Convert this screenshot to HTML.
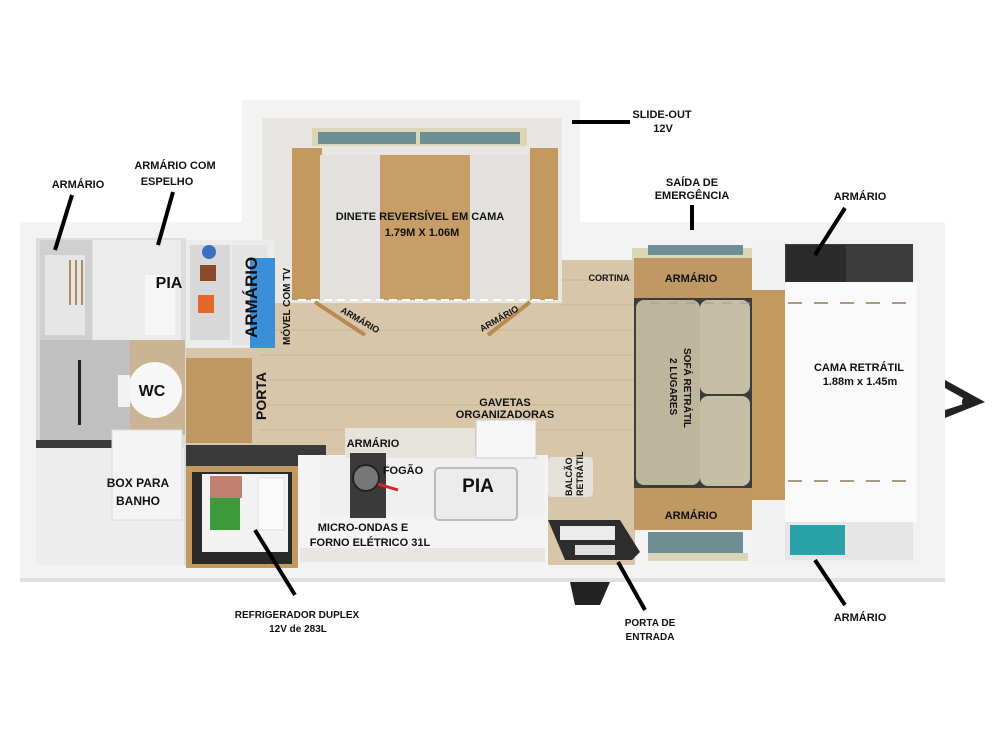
<!DOCTYPE html>
<html><head><meta charset="utf-8"><style>
html,body{margin:0;padding:0;background:#fff}
svg{display:block}
text{font-family:"Liberation Sans",sans-serif;font-weight:bold;fill:#111}
</style></head><body>
<svg width="1000" height="750" viewBox="0 0 1000 750" xmlns="http://www.w3.org/2000/svg">
<!-- outer walls -->
<rect x="242" y="100" width="338" height="145" fill="#f3f3f3"/>
<rect x="20" y="222" width="925" height="360" fill="#f3f3f3"/>
<rect x="20" y="578" width="925" height="4" fill="#e0e0e0"/>
<!-- wood floor -->
<rect x="262" y="118" width="300" height="190" fill="#ece9e4"/>
<rect x="185" y="240" width="450" height="325" fill="#d8c6aa"/>
<rect x="560" y="240" width="80" height="20" fill="#f3f3f3"/>
<g stroke="#c9b596" stroke-width="1">
<line x1="260" y1="330" x2="635" y2="330"/><line x1="260" y1="355" x2="635" y2="355"/><line x1="260" y1="380" x2="635" y2="380"/><line x1="260" y1="405" x2="635" y2="405"/><line x1="260" y1="430" x2="635" y2="430"/><line x1="560" y1="280" x2="635" y2="280"/><line x1="560" y1="305" x2="635" y2="305"/>
</g>
<!-- slide-out dinette -->
<rect x="262" y="118" width="300" height="185" fill="#e8e6e2"/>
<rect x="312" y="128" width="215" height="18" fill="#dcd6b8"/>
<rect x="318" y="132" width="98" height="12" fill="#6f8f95"/>
<rect x="420" y="132" width="100" height="12" fill="#6f8f95"/>
<rect x="292" y="148" width="30" height="152" fill="#c4995f"/>
<rect x="530" y="148" width="28" height="152" fill="#c4995f"/>
<rect x="320" y="155" width="210" height="145" fill="#e3e1dd"/>
<rect x="380" y="155" width="90" height="145" fill="#c89e68"/>
<line x1="298" y1="300" x2="556" y2="300" stroke="#fff" stroke-width="2" stroke-dasharray="8 5"/>
<line x1="315" y1="302" x2="365" y2="335" stroke="#b88a50" stroke-width="4"/>
<line x1="530" y1="302" x2="488" y2="335" stroke="#b88a50" stroke-width="4"/>
<!-- bathroom -->
<rect x="36" y="238" width="150" height="327" fill="#dcdcdc"/>
<rect x="40" y="240" width="52" height="100" fill="#d0d0d0"/>
<rect x="45" y="255" width="40" height="80" fill="#e6e6e6"/>
<g stroke="#b08a60" stroke-width="2"><line x1="70" y1="260" x2="70" y2="305"/><line x1="76" y1="260" x2="76" y2="305"/><line x1="82" y1="260" x2="82" y2="305"/></g>
<rect x="93" y="240" width="88" height="100" fill="#ececec"/>
<rect x="145" y="275" width="30" height="60" fill="#f6f6f6"/>
<rect x="130" y="340" width="55" height="95" fill="#cbb493"/>
<rect x="40" y="340" width="90" height="100" fill="#c0c0c0"/>
<rect x="78" y="360" width="3" height="65" fill="#222"/>
<ellipse cx="155" cy="390" rx="27" ry="28" fill="#f7f7f7"/>
<rect x="118" y="375" width="12" height="32" fill="#f2f2f2"/>
<rect x="36" y="440" width="145" height="8" fill="#3a3a3a"/>
<rect x="36" y="448" width="148" height="117" fill="#ededed"/>
<rect x="112" y="430" width="70" height="90" fill="#f4f4f4" stroke="#ddd"/>
<!-- armario / tv -->
<rect x="186" y="240" width="88" height="108" fill="#ececec"/>
<rect x="190" y="245" width="40" height="95" fill="#d8d8d8"/>
<circle cx="209" cy="252" r="7" fill="#3b6fc4"/><rect x="200" y="265" width="16" height="16" fill="#8a4a2a"/><rect x="198" y="295" width="16" height="18" fill="#e0682a"/>
<rect x="232" y="245" width="35" height="100" fill="#e4e4e4"/>
<rect x="250" y="258" width="25" height="90" fill="#3b8fd8"/>
<rect x="186" y="358" width="66" height="85" fill="#bf9863"/>
<!-- fridge -->
<rect x="186" y="445" width="140" height="25" fill="#3a3a3a"/>
<rect x="186" y="466" width="112" height="102" fill="#c4995f"/>
<rect x="192" y="472" width="100" height="92" fill="#2a2a2a"/>
<rect x="202" y="474" width="86" height="78" fill="#f2f2f2"/>
<rect x="210" y="476" width="32" height="22" fill="#c08070"/>
<rect x="210" y="498" width="30" height="32" fill="#3a9a3c"/>
<rect x="258" y="478" width="26" height="52" fill="#fafafa" stroke="#ddd"/>
<!-- kitchen counter -->
<rect x="298" y="455" width="250" height="112" fill="#f4f4f4"/>
<rect x="320" y="456" width="225" height="60" fill="#f0f0f0"/>
<rect x="345" y="428" width="130" height="30" fill="#e6e3dd"/>
<rect x="350" y="453" width="36" height="65" fill="#3a3a3a"/>
<circle cx="366" cy="478" r="13" fill="#777" stroke="#222" stroke-width="2"/>
<line x1="378" y1="484" x2="398" y2="490" stroke="#d22" stroke-width="3"/>
<rect x="435" y="468" width="82" height="52" rx="4" fill="#ececec" stroke="#bbb" stroke-width="2"/>
<rect x="476" y="420" width="60" height="38" fill="#f6f6f6" stroke="#ccc"/>
<rect x="548" y="457" width="45" height="40" rx="4" fill="#e5e2dc"/>
<rect x="300" y="548" width="245" height="14" fill="#e8e6e0"/>
<!-- door -->
<path d="M548 520 L620 520 L640 552 L632 560 L565 560 Z" fill="#2d2d2d"/>
<rect x="560" y="526" width="55" height="14" fill="#ececec"/>
<rect x="575" y="545" width="40" height="10" fill="#e0e0e0"/>
<path d="M570 582 L610 582 L600 605 L575 605 Z" fill="#222"/>
<!-- sofa area -->
<rect x="632" y="248" width="125" height="12" fill="#dcd6b8"/>
<rect x="648" y="245" width="95" height="10" fill="#6f8f95"/>
<rect x="634" y="258" width="118" height="40" fill="#bf9863"/>
<rect x="634" y="298" width="118" height="190" fill="#3c3c3c"/>
<rect x="636" y="300" width="64" height="185" rx="8" fill="#bdb59c"/>
<rect x="700" y="300" width="50" height="94" rx="8" fill="#c6bea5"/>
<rect x="700" y="396" width="50" height="90" rx="8" fill="#c6bea5"/>
<rect x="634" y="488" width="118" height="42" fill="#bf9863"/>
<rect x="648" y="532" width="95" height="22" fill="#6f8f95"/>
<rect x="648" y="553" width="100" height="8" fill="#dcd6b8"/>
<!-- bedroom -->
<rect x="752" y="240" width="168" height="325" fill="#f1f1f1"/>
<rect x="752" y="290" width="35" height="210" fill="#c4995f"/>
<rect x="785" y="244" width="128" height="40" fill="#3c3c3c"/>
<rect x="786" y="245" width="60" height="38" fill="#2b2b2b"/>
<rect x="785" y="520" width="128" height="40" fill="#e6e6e6"/>
<rect x="790" y="525" width="55" height="30" fill="#2aa3a8"/>
<rect x="785" y="282" width="132" height="240" fill="#fafafa"/>
<line x1="788" y1="303" x2="918" y2="303" stroke="#a99a85" stroke-width="2" stroke-dasharray="14 12"/>
<line x1="788" y1="481" x2="918" y2="481" stroke="#a99a85" stroke-width="2" stroke-dasharray="14 12"/>
<line x1="650" y1="303" x2="750" y2="303" stroke="#a99a85" stroke-width="1" stroke-dasharray="10 8"/>
<path d="M945 380 L985 402 L945 418 L945 410 L970 402 L945 388 Z" fill="#222"/>
<circle cx="968" cy="402" r="6" fill="#222"/>
<!-- leader lines -->
<g stroke="#000" stroke-width="4" stroke-linecap="butt">
<line x1="572" y1="122" x2="630" y2="122"/>
<line x1="692" y1="205" x2="692" y2="230"/>
<line x1="845" y1="208" x2="815" y2="255"/>
<line x1="815" y1="560" x2="845" y2="605"/>
<line x1="72" y1="195" x2="55" y2="250"/>
<line x1="173" y1="192" x2="158" y2="245"/>
<line x1="255" y1="530" x2="295" y2="595"/>
<line x1="618" y1="562" x2="645" y2="610"/>
</g>
<!-- labels -->
<g font-size="11" text-anchor="middle">
<text x="78" y="188">ARMÁRIO</text>
<text x="175" y="169">ARMÁRIO COM</text><text x="167" y="185">ESPELHO</text>
<text x="662" y="118">SLIDE-OUT</text><text x="663" y="132">12V</text>
<text x="692" y="186">SAÍDA DE</text><text x="692" y="199">EMERGÊNCIA</text>
<text x="860" y="200">ARMÁRIO</text>
<text x="860" y="621">ARMÁRIO</text>
<text x="420" y="220">DINETE REVERSÍVEL EM CAMA</text><text x="422" y="236">1.79M X 1.06M</text>
<text x="691" y="282">ARMÁRIO</text>
<text x="691" y="519">ARMÁRIO</text>
<text x="609" y="281" font-size="9">CORTINA</text>
<text x="859" y="371">CAMA RETRÁTIL</text><text x="860" y="385" font-weight="bold">1.88m x 1.45m</text>
<text x="505" y="406">GAVETAS</text><text x="505" y="418">ORGANIZADORAS</text>
<text x="373" y="447">ARMÁRIO</text>
<text x="403" y="474">FOGÃO</text>
<text x="363" y="531">MICRO-ONDAS E</text><text x="370" y="546">FORNO ELÉTRICO  31L</text>
<text x="138" y="487" font-size="12">BOX PARA</text><text x="138" y="505" font-size="12">BANHO</text>
<text x="297" y="618" font-size="10">REFRIGERADOR DUPLEX</text><text x="298" y="632" font-size="10">12V de 283L</text>
<text x="650" y="626" font-size="10">PORTA DE</text><text x="650" y="640" font-size="10">ENTRADA</text>
<text x="169" y="288" font-size="16">PIA</text>
<text x="152" y="396" font-size="16">WC</text>
<text x="478" y="492" font-size="19">PIA</text>
</g>
<text transform="translate(257,338) rotate(-90)" font-size="17">ARMÁRIO</text>
<text transform="translate(290,345) rotate(-90)" font-size="10">MÓVEL COM TV</text>
<text transform="translate(266,420) rotate(-90)" font-size="14">PORTA</text>
<text transform="translate(572,496) rotate(-90)" font-size="9">BALCÃO</text>
<text transform="translate(583,496) rotate(-90)" font-size="9">RETRÁTIL</text>
<text transform="translate(684,348) rotate(90)" font-size="10">SOFÁ RETRÁTIL</text>
<text transform="translate(670,358) rotate(90)" font-size="10">2 LUGARES</text>
<text transform="translate(340,312) rotate(30)" font-size="9">ARMÁRIO</text>
<text transform="translate(482,332) rotate(-30)" font-size="9">ARMÁRIO</text>
</svg>
</body></html>
